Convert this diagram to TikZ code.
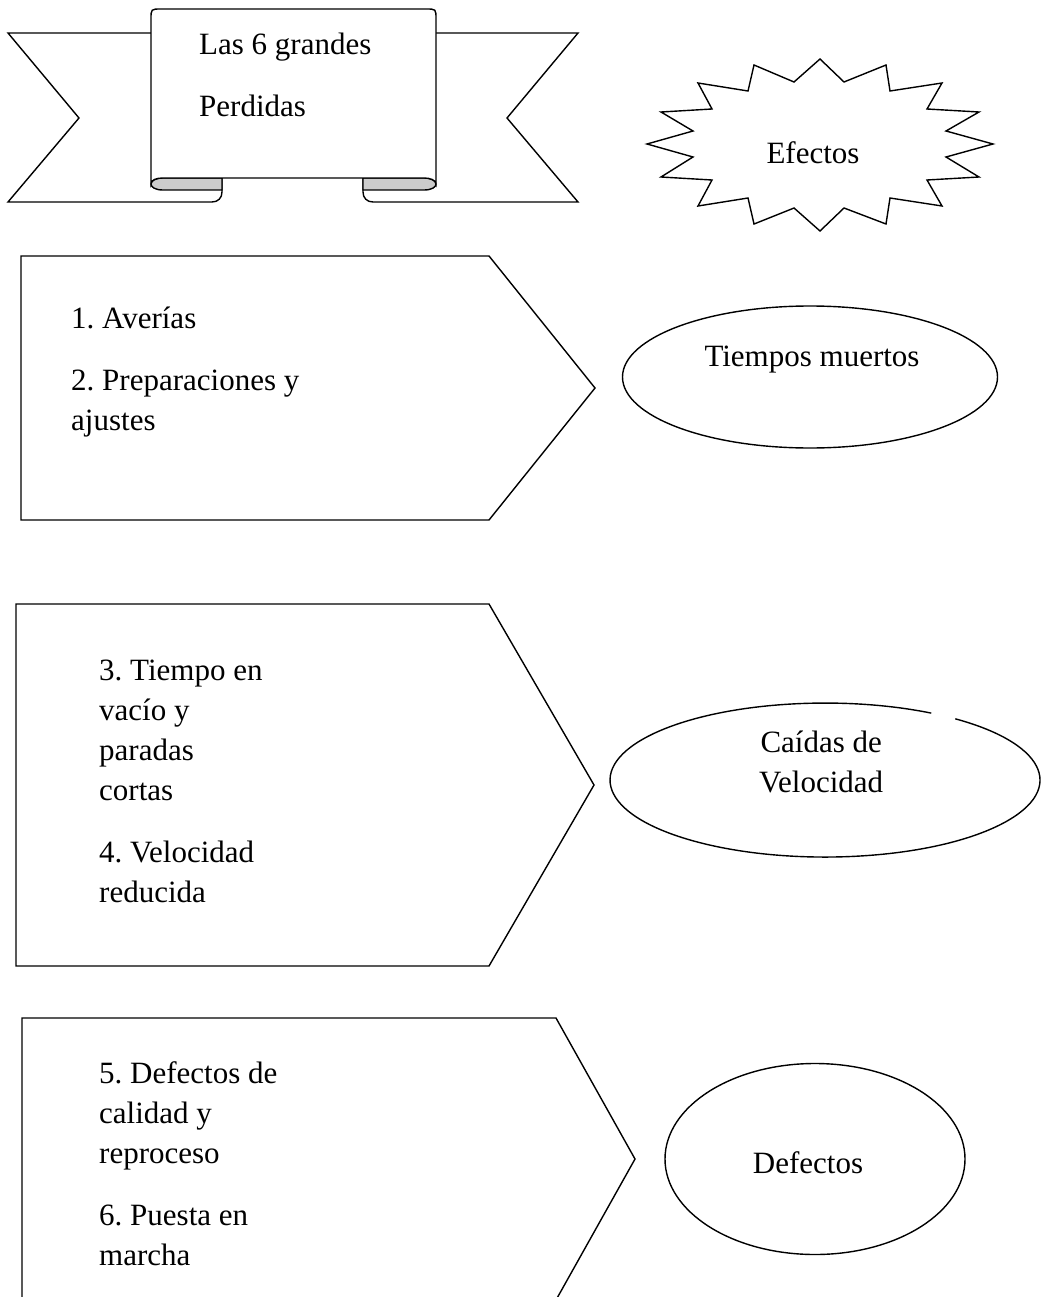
\documentclass[tikz,border=0pt]{standalone}
\usepackage{fontspec}
\setmainfont{Liberation Serif}
\usetikzlibrary{shapes.geometric}
\frenchspacing
\begin{document}
\begin{tikzpicture}[x=1pt,y=-1pt,
  outline/.style={draw=black,line width=1.4pt,line join=miter},
  txt/.style={inner sep=0pt,font=\fontsize{31}{40}\selectfont},
  effect/.style={ellipse,draw=black,line width=1.4pt,inner sep=0pt,fill=white},
  fold/.style={outline,fill=black!20},
]
\useasboundingbox (0,0) rectangle (1042,1297);
\clip (0,0) rectangle (1042,1297);

% ---------- title banner ----------
% left tail of the ribbon
\filldraw[outline,fill=white] (151,33) -- (8,33) -- (79,118) -- (8,202) -- (212,202)
  .. controls (218,202) and (222,198) .. (222,192) -- (222,178);
% right tail of the ribbon
\filldraw[outline,fill=white] (436,33) -- (578,33) -- (507,118) -- (578,202) -- (373,202)
  .. controls (367,202) and (363,198) .. (363,192) -- (363,178);
% folded-under parts
\filldraw[fold] (222,178) -- (163,178) .. controls (147,178) and (147,190) .. (163,190) -- (222,190) -- cycle;
\filldraw[fold] (363,178) -- (424,178) .. controls (440,178) and (440,190) .. (424,190) -- (363,190) -- cycle;
% central panel
\filldraw[outline,fill=white] (151,184) -- (151,19) .. controls (151,9) .. (161,9) -- (426,9)
  .. controls (436,9) .. (436,19) -- (436,184) .. controls (436,180) and (430,178) .. (424,178)
  -- (163,178) .. controls (156,178) and (151,180) .. (151,184) -- cycle;
\node[txt,anchor=base west] (title) at (199,55)
  {\parbox[t]{300pt}{\raggedright Las 6 grandes\\[22pt]Perdidas}};

% ---------- burst ----------
\filldraw[outline,fill=white] (820,59) -- (844,82) -- (886,65) -- (890,91) -- (942,83) -- (927,109)
  -- (979,112) -- (946,131) -- (993,144) -- (946,157) -- (979,177) -- (927,180) -- (942,206)
  -- (890,198) -- (886,224) -- (844,208) -- (820,231) -- (794,208) -- (754,224) -- (748,198)
  -- (698,206) -- (712,180) -- (661,177) -- (693,157) -- (647,144) -- (693,131) -- (661,112)
  -- (712,109) -- (698,83) -- (748,91) -- (754,65) -- (794,82) -- cycle;
\node[txt,anchor=base] (efectos) at (813,164) {Efectos};

% ---------- first group ----------
\draw[outline] (21,256) -- (489,256) -- (595,388) -- (489,520) -- (21,520) -- cycle;
\node[txt,anchor=base west] (g1) at (71,328)
  {\parbox[t]{400pt}{\raggedright 1. Averías\\[22pt]2. Preparaciones y\\ajustes}};
\node[effect,minimum width=375pt,minimum height=142pt] (e1) at (810,377) {};
\node[txt,anchor=base] (e1t) at (812,366) {Tiempos muertos};

% ---------- second group ----------
\draw[outline] (16,604) -- (489,604) -- (594,785) -- (489,966) -- (16,966) -- cycle;
\node[txt,anchor=base west] (g2) at (99,680)
  {\parbox[t]{400pt}{\raggedright 3. Tiempo en\\vacío y\\paradas\\cortas\\[22pt]4. Velocidad\\reducida}};
\node[inner sep=0pt,minimum width=430pt,minimum height=154pt] (e2) at (825,780) {};
\draw[line width=1.4pt] (955.3,718.8) arc[start angle=-52.7,end angle=299.6,x radius=215,y radius=77];
\node[txt,anchor=base west] (e2t) at (751,752)
  {\parbox[t]{140pt}{\centering Caídas de\\Velocidad}};

% ---------- third group ----------
\draw[outline] (22,1018) -- (556,1018) -- (635,1159) -- (556,1300) -- (22,1300) -- cycle;
\node[txt,anchor=base west] (g3) at (99,1083)
  {\parbox[t]{400pt}{\raggedright 5. Defectos de\\calidad y\\reproceso\\[22pt]6. Puesta en\\marcha}};
\node[effect,minimum width=300pt,minimum height=191pt] (e3) at (815,1159) {};
\node[txt,anchor=base] (e3t) at (808,1173) {Defectos};

\end{tikzpicture}
\end{document}
